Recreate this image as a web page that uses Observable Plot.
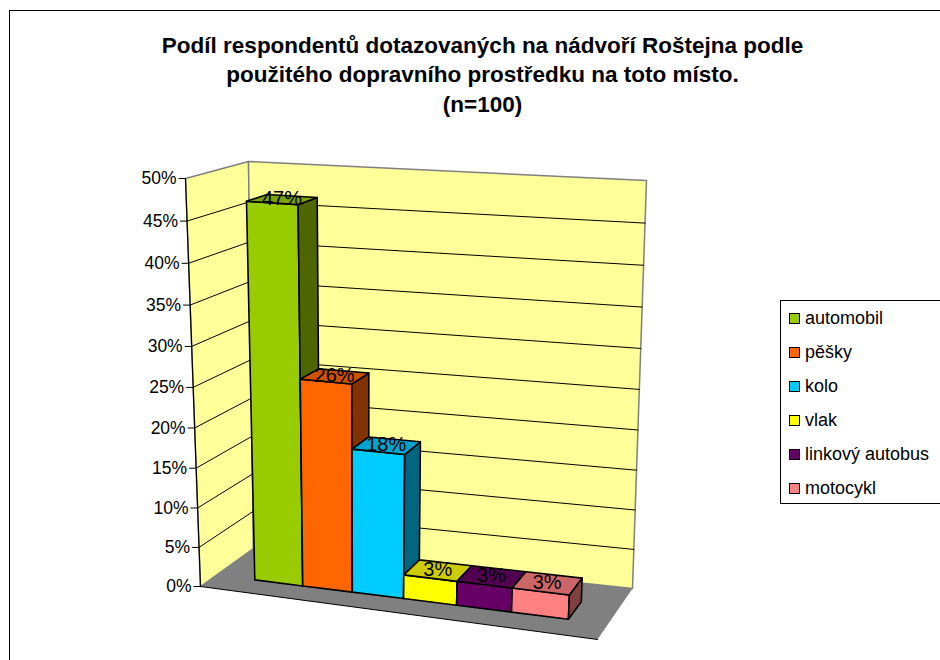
<!DOCTYPE html>
<html>
<head>
<meta charset="utf-8">
<script src="https://cdn.jsdelivr.net/npm/d3@7"></script>
<script src="https://cdn.jsdelivr.net/npm/@observablehq/plot@0.6"></script>
<style>
  body { margin: 0; background: #fff; font-family: "Liberation Sans", Arial, sans-serif; }
  #wrap { position: relative; width: 940px; height: 660px; overflow: hidden; background: #fff; }
  #frame { position: absolute; left: 9px; top: 10px; width: 1000px; height: 1000px; border: 1.5px solid #000; box-sizing: border-box; pointer-events: none; }
  #chart { position: absolute; left: 0; top: 0; }
  #legend { position: absolute; left: 780px; top: 300px; width: 200px; height: 204px; border: 1px solid #000; box-sizing: border-box; background: #fff; }
  .item { position: absolute; left: 8px; height: 20px; display: flex; align-items: center; font-size: 18px; color: #000; white-space: nowrap; }
  .sw { width: 9px; height: 9px; border: 1.5px solid #000; margin-right: 5px; }
</style>
</head>
<body>
<div id="wrap"><div id="chart"></div><div id="frame"></div><div id="legend"></div></div>
<script>
// ---- data ----
const categories = ["automobil", "pěšky", "kolo", "vlak", "linkový autobus", "motocykl"];
const values = [47, 26, 18, 3, 3, 3];
const valueLabels = ["47%", "26%", "18%", "3%", "3%", "3%"];
const yTicks = [0, 5, 10, 15, 20, 25, 30, 35, 40, 45, 50];
const yTickLabels = ["0%", "5%", "10%", "15%", "20%", "25%", "30%", "35%", "40%", "45%", "50%"];
const titleLines = [
  "Podíl respondentů dotazovaných na nádvoří Roštejna podle",
  "použitého dopravního prostředku na toto místo.",
  "(n=100)"
];
const frontColors = ["#99CC00", "#FF6600", "#00CCFF", "#FFFF00", "#660066", "#FF8080"];
const topColors   = ["#7AA300", "#CC5200", "#00A3CC", "#CCCC00", "#520052", "#CC6666"];
const sideColors  = ["#4D6600", "#803300", "#006680", "#808000", "#330033", "#804040"];

// ---- layout (3D box projection) ----
const W = 940, H = 660;
const yMax = 50;
const box = {
  p000: [200, 586], p100: [597, 639], p010: [185, 178], p110: [619, 207],
  p001: [253, 548], p101: [632, 588], p011: [248, 161], p111: [646, 180]
};
const barU0 = 0.11, barU1 = 0.91, depthFront = 0.30, depthBack = 0.65;
const warpU = -0.12, warpV = -0.047;
const gu = u => u * (1 + warpU) / (1 + warpU * u);
const hv = v => v * (1 + warpV) / (1 + warpV * v);
const lerp = (a, b, k) => [a[0] + (b[0] - a[0]) * k, a[1] + (b[1] - a[1]) * k];
function project(u, value, w) {
  const s = gu(u), t = hv(value / yMax);
  const b0 = lerp(lerp(box.p000, box.p100, s), lerp(box.p001, box.p101, s), w);
  const b1 = lerp(lerp(box.p010, box.p110, s), lerp(box.p011, box.p111, s), w);
  return lerp(b0, b1, t);
}
function poly(id, pts, fill) {
  const closed = pts.concat([pts[0]]);
  return closed.map(([u, v, w]) => { const p = project(u, v, w); return {id, x: p[0], y: p[1], fill}; });
}

// walls & floor
const wallFill = "#FFFF99";
const walls = [
  ...poly("side", [[0,0,0],[0,yMax,0],[0,yMax,1],[0,0,1]], wallFill),
  ...poly("back", [[0,0,1],[0,yMax,1],[1,yMax,1],[1,0,1]], wallFill)
];
const floor = poly("floor", [[0,0,0],[1,0,0],[1,0,1],[0,0,1]], "#808080");

// gridlines (side wall + back wall)
const grid = [];
yTicks.filter(t => t > 0 && t < yMax).forEach(t => {
  [[0,t,0],[0,t,1],[1,t,1]].forEach(([u,v,w]) => { const p = project(u,v,w); grid.push({id: t, x: p[0], y: p[1]}); });
});

// bars
const bw = (barU1 - barU0) / categories.length;
const faces = [];
const labelsData = [];
categories.forEach((c, i) => {
  const ul = barU0 + i * bw, ur = ul + bw, v = values[i], a = depthFront, b = depthBack;
  faces.push(...poly(c + "-front", [[ul,0,a],[ur,0,a],[ur,v,a],[ul,v,a]], frontColors[i]));
  faces.push(...poly(c + "-side", [[ur,0,a],[ur,0,b],[ur,v,b],[ur,v,a]], sideColors[i]));
  faces.push(...poly(c + "-top", [[ul,v,a],[ur,v,a],[ur,v,b],[ul,v,b]], topColors[i]));
  const p = project((ul + ur) / 2, v, (a + b) / 2);
  labelsData.push({x: p[0], y: p[1], text: valueLabels[i]});
});

// axis ticks
const ticks = yTicks.map((t, i) => { const p = project(0, t, 0); return {x: p[0], y: p[1], label: yTickLabels[i]}; });
const frontEdge = [0, 1].map(u => { const p = project(u, 0, 0); return {x: p[0], y: p[1]}; });
const axisLine = [0, yMax].map(v => { const p = project(0, v, 0); return {x: p[0], y: p[1]}; });
const titleData = titleLines.map((t, i) => ({text: t, x: 482, y: 52 + i * 29.5}));

const font = "Liberation Sans, Arial, sans-serif";
const chart = Plot.plot({
  width: W, height: H, margin: 0,
  x: {domain: [0, W], range: [0, W], axis: null},
  y: {domain: [0, H], range: [0, H], axis: null},
  color: {type: "identity"},
  style: {background: "transparent", fontFamily: font},
  marks: [
    Plot.line(walls, {x: "x", y: "y", z: "id", fill: "fill", stroke: "#808080", strokeWidth: 1.5}),
    Plot.line(floor, {x: "x", y: "y", z: "id", fill: "fill", stroke: "none"}),
    Plot.line(grid, {x: "x", y: "y", z: "id", stroke: "#000", strokeWidth: 1}),
    Plot.line(frontEdge, {x: "x", y: "y", stroke: "#000", strokeWidth: 1}),
    Plot.line(axisLine, {x: "x", y: "y", stroke: "#000", strokeWidth: 1.2}),
    Plot.link(ticks, {x1: d => d.x - 7, y1: "y", x2: "x", y2: "y", stroke: "#000", strokeWidth: 1}),
    Plot.text(ticks, {x: d => d.x - 9, y: "y", text: "label", textAnchor: "end", fontSize: 17.5, fill: "#000"}),
    Plot.line(faces, {x: "x", y: "y", z: "id", fill: "fill", stroke: "#000", strokeWidth: 1.6, strokeLinejoin: "round"}),
    Plot.text(labelsData, {x: "x", y: "y", text: "text", fontSize: 20, fill: "#000", dy: -1}),
    Plot.text(titleData, {x: "x", y: "y", text: "text", fontSize: 22.5, fontWeight: "bold", lineAnchor: "bottom", fill: "#000"})
  ]
});
document.getElementById("chart").appendChild(chart);

// legend
const legend = document.getElementById("legend");
categories.forEach((c, i) => {
  const it = document.createElement("div");
  it.className = "item";
  it.style.top = (7.7 + i * 34) + "px";
  const sw = document.createElement("div");
  sw.className = "sw";
  sw.style.background = frontColors[i];
  const tx = document.createElement("span");
  tx.textContent = c;
  it.appendChild(sw); it.appendChild(tx);
  legend.appendChild(it);
});
</script>
</body>
</html>
